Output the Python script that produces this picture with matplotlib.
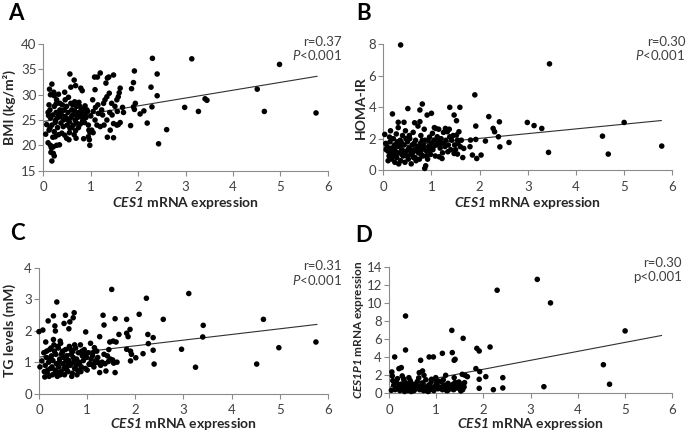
import matplotlib
matplotlib.use("Agg")
import matplotlib.pyplot as plt
import numpy as np

plt.rcParams['font.family'] = ['Lato', 'DejaVu Sans']
plt.rcParams['mathtext.fontset'] = 'custom'
plt.rcParams['mathtext.sf'] = 'Lato:italic:bold'
plt.rcParams['mathtext.it'] = 'Lato:italic'
plt.rcParams['mathtext.rm'] = 'Lato'

# ---------------- Panel A: BMI ----------------
A_x = [5.75, 4.98, 4.51, 4.66, 3.41, 3.45, 3.27, 2.98, 3.13, 2.60, 2.43, 2.30, 2.40, 2.40, 2.27, 2.29,
       2.19, 2.12, 2.04, 1.92, 1.90, 1.86, 1.94, 1.92, 1.84, 1.90, 1.62, 1.60, 1.58, 1.55, 1.51, 1.56,
       1.62, 1.67, 1.69, 1.58, 1.55, 1.48, 1.41, 1.48, 1.35, 1.34, 1.44, 1.39, 1.48, 1.38, 1.35, 1.32,
       1.34, 1.30, 1.27, 1.23, 1.05, 1.09, 1.20, 1.13, 1.16, 1.20, 1.14, 1.08, 1.09, 1.04, 1.02, 0.98,
       0.97, 0.98, 0.95, 0.93, 0.88, 0.83, 0.77, 0.84, 0.80, 0.77, 0.82, 0.79, 0.69, 0.65, 0.70, 0.67,
       0.70, 0.66, 0.68, 0.65, 0.54, 0.49, 0.56, 0.53, 0.60, 0.58, 0.56, 0.53, 0.46, 0.49, 0.46, 0.42,
       0.39, 0.32, 0.34, 0.37, 0.34, 0.35, 0.35, 0.32, 0.23, 0.28, 0.23, 0.26, 0.23, 0.20, 0.25, 0.21,
       0.23, 0.21, 0.18, 0.16, 0.15, 0.14, 0.15, 0.14, 0.18, 0.13, 0.11, 0.07, 0.05,
       0.10, 0.12, 0.18, 0.20, 0.25, 0.27, 0.30, 0.30, 0.38, 0.40, 0.42, 0.44, 0.45, 0.50, 0.52, 0.55,
       0.58, 0.60, 0.62, 0.63, 0.66, 0.72, 0.74, 0.75, 0.78, 0.81, 0.85, 0.87, 0.90, 0.92, 0.95, 0.96,
       1.00, 1.05, 1.10, 1.15, 1.25, 1.28, 1.40, 1.45, 0.10, 0.17, 0.28, 0.22, 0.15, 0.45, 0.75, 0.58,
       0.85, 0.33, 0.48, 0.62, 0.72, 0.88, 0.12, 0.27, 0.40, 0.55, 0.68]
A_y = [26.4, 36.0, 31.1, 26.7, 29.2, 28.9, 26.7, 27.5, 37.1, 23.1, 20.3, 37.2, 34.1, 29.8, 31.5, 27.6,
       24.4, 26.8, 26.2, 34.7, 32.4, 31.2, 28.3, 27.1, 23.9, 27.6, 31.3, 30.4, 29.6, 29.0, 27.7, 26.7,
       24.5, 27.5, 26.5, 24.1, 24.0, 24.3, 23.0, 21.5, 21.6, 25.0, 28.3, 30.3, 33.9, 33.5, 33.3, 32.3,
       29.6, 29.0, 28.3, 27.0, 26.7, 25.0, 23.7, 24.0, 26.3, 34.3, 33.5, 33.5, 31.0, 29.0, 23.0, 20.0,
       21.1, 22.6, 21.7, 26.7, 26.0, 24.9, 25.7, 26.3, 27.0, 27.7, 30.8, 31.3, 21.4, 22.1, 24.4, 25.0,
       27.7, 28.6, 31.8, 32.9, 21.1, 21.4, 23.4, 25.0, 27.0, 28.3, 34.1, 29.5, 29.0, 27.7, 25.7, 23.7,
       22.4, 22.1, 20.1, 24.4, 25.7, 27.0, 28.3, 30.1, 29.8, 29.0, 27.7, 25.0, 22.7, 21.6, 21.7, 19.7,
       17.9, 18.4, 16.9, 18.6, 20.0, 23.4, 25.4, 27.0, 32.1, 31.1, 25.9, 24.1, 22.2,
       26.5, 28.0, 24.0, 26.0, 24.5, 26.5, 23.5, 25.5, 26.0, 28.0, 25.0, 27.0, 22.0, 24.0, 26.5, 22.5,
       25.5, 23.5, 26.0, 24.0, 26.8, 25.5, 23.5, 26.5, 24.2, 25.8, 27.2, 24.5, 25.5, 27.0, 24.0, 23.0,
       25.8, 22.5, 27.5, 28.0, 26.0, 24.0, 26.5, 26.0, 20.5, 19.5, 20.0, 30.5, 30.0, 30.5, 28.5, 31.5,
       21.3, 26.2, 25.2, 28.0, 26.0, 27.8, 23.0, 28.2, 26.8, 24.6, 22.9]

# ---------------- Panel B: HOMA-IR ----------------
B_x = [5.78, 5.00, 4.55, 4.67, 3.43, 3.45, 3.29, 3.13, 2.99, 2.61, 2.42, 2.41, 2.39, 2.28, 2.31, 2.19,
       2.12, 2.03, 1.94, 1.92, 1.92, 1.90, 1.85, 1.81, 1.80, 1.59, 1.38, 1.47, 1.52, 1.52, 1.57, 1.54,
       1.60, 1.67, 1.47, 1.54, 1.34, 1.29, 1.33, 1.38, 1.26, 1.22, 1.16, 1.09, 1.00, 0.91, 1.02, 1.05,
       1.12, 0.88, 0.86, 0.81, 0.76, 0.76, 0.65, 0.51, 0.19, 0.31, 0.43, 0.36, 0.03, 0.05,
       0.08, 0.10, 0.12, 0.14, 0.15, 0.17, 0.18, 0.20, 0.21, 0.23, 0.24, 0.25, 0.27, 0.28, 0.30, 0.31,
       0.32, 0.33, 0.35, 0.36, 0.38, 0.40, 0.41, 0.43, 0.45, 0.46, 0.48, 0.50, 0.52, 0.53, 0.55, 0.57,
       0.58, 0.60, 0.62, 0.63, 0.65, 0.67, 0.68, 0.70, 0.72, 0.73, 0.75, 0.77, 0.78, 0.80, 0.82, 0.83,
       0.85, 0.87, 0.90, 0.92, 0.94, 0.96, 0.98, 1.00, 1.03, 1.06, 1.08, 1.10, 1.13, 1.15, 1.18, 1.20,
       1.23, 1.25, 1.28, 1.30, 1.35, 1.37, 1.40, 1.42, 1.45, 1.48, 1.50, 1.55, 1.62, 1.65,
       0.10, 0.16, 0.22, 0.26, 0.34, 0.39, 0.44, 0.49, 0.56, 0.61, 0.66, 0.71, 0.79, 0.84, 0.89, 0.95,
       0.13, 0.29, 0.47, 0.64, 0.81, 1.04, 1.19, 0.06, 0.37, 0.54, 0.74, 0.93]
B_y = [1.53, 3.03, 2.16, 1.02, 1.13, 6.75, 2.65, 2.83, 3.03, 1.76, 1.48, 3.07, 2.12, 2.65, 2.44, 3.40,
       1.85, 0.96, 0.74, 2.80, 1.95, 4.78, 0.96, 1.91, 1.49, 3.99, 3.99, 3.50, 3.14, 2.23, 2.44, 1.91,
       1.49, 1.38, 1.06, 1.02, 1.17, 2.65, 2.44, 2.12, 1.70, 0.74, 0.85, 2.65, 3.61, 3.50, 2.34, 1.91,
       2.12, 0.28, 0.11, 4.20, 3.82, 3.08, 3.01, 3.91, 3.57, 3.04, 3.04, 7.95, 2.27, 1.70,
       1.5, 1.2, 0.9, 1.8, 2.5, 1.4, 0.7, 1.0, 2.0, 1.6, 0.5, 1.2, 2.3, 0.8, 1.5, 2.7,
       0.4, 1.1, 1.9, 0.6, 1.3, 2.2, 0.9, 1.6, 0.5, 2.5, 1.2, 1.8, 0.7, 1.4, 2.0, 1.0,
       0.4, 1.6, 2.4, 0.8, 1.3, 1.9, 0.6, 1.5, 2.8, 1.1, 0.7, 1.7, 2.2, 1.3, 0.9, 1.6,
       2.6, 1.9, 1.2, 0.7, 1.5, 2.1, 1.0, 1.7, 1.3, 2.7, 0.9, 1.6, 1.9, 2.6, 1.4, 2.0,
       1.1, 2.4, 1.5, 1.9, 1.6, 2.6, 1.3, 1.9, 2.2, 1.6, 1.3, 1.7, 1.9, 0.8,
       0.6, 1.1, 1.3, 0.9, 1.6, 1.0, 1.2, 0.9, 1.3, 1.1, 0.8, 1.2, 1.0, 1.4, 0.9, 1.3,
       2.1, 1.8, 2.0, 1.7, 1.9, 1.5, 1.7, 1.3, 1.8, 2.2, 1.4, 1.9]

# ---------------- Panel C: TG levels ----------------
C_x = [5.75, 4.98, 4.52, 4.66, 3.11, 2.58, 3.41, 3.40, 2.96, 3.25, 2.37, 2.37, 2.39,
       0.00, 0.08, 0.02, 0.06, 0.11, 0.12, 0.14, 0.16, 0.19, 0.30, 0.33, 0.34, 0.30, 0.37, 0.44,
       0.52, 0.55, 0.64, 0.62, 0.71, 0.73, 0.97, 1.07, 1.00, 1.20, 1.26, 1.33, 1.35, 1.51, 1.58,
       1.47, 1.54, 1.60, 1.66, 1.82, 1.82, 1.85, 1.89, 1.82, 1.90, 1.90, 1.92, 2.01, 2.08, 2.16,
       2.23, 2.26, 2.27, 1.35, 1.39, 1.26, 1.24, 1.44, 1.53, 1.55, 1.58, 1.15, 1.16, 1.09, 1.04,
       0.10, 0.13, 0.15, 0.17, 0.20, 0.22, 0.24, 0.26, 0.28, 0.29, 0.31, 0.33, 0.35, 0.36, 0.38,
       0.40, 0.41, 0.43, 0.45, 0.46, 0.48, 0.50, 0.51, 0.53, 0.55, 0.57, 0.58, 0.60, 0.62, 0.63,
       0.65, 0.67, 0.69, 0.70, 0.72, 0.74, 0.76, 0.78, 0.80, 0.82, 0.84, 0.86, 0.88, 0.90, 0.92,
       0.94, 0.96, 0.99, 1.02, 1.05, 1.08, 1.11, 1.14, 1.18, 1.22, 1.28, 1.31, 1.37, 1.42, 1.48,
       0.18, 0.23, 0.27, 0.32, 0.37, 0.42, 0.47, 0.52, 0.56, 0.61, 0.66, 0.71, 0.77, 0.83, 0.89,
       0.21, 0.34, 0.44, 0.58, 0.68, 0.79, 0.87, 0.95, 1.12, 0.25, 0.39, 0.49, 0.74, 1.45, 1.62]
C_y = [1.64, 1.46, 0.94, 2.36, 3.18, 2.36, 2.17, 1.80, 1.41, 0.84, 1.78, 1.38, 0.94,
       1.97, 2.02, 0.85, 1.04, 0.70, 0.53, 1.64, 1.35, 2.31, 2.47, 2.15, 1.99, 1.72, 2.91, 1.67,
       2.23, 2.49, 2.28, 2.06, 2.41, 2.57, 1.96, 1.60, 0.75, 1.35, 1.81, 2.49, 2.18, 3.31, 2.38,
       1.64, 1.67, 1.64, 1.88, 1.92, 2.36, 1.81, 2.04, 1.41, 1.35, 1.04, 1.25, 1.14, 2.52, 1.27,
       3.03, 1.88, 1.59, 1.25, 0.72, 0.67, 0.98, 1.02, 1.07, 0.97, 0.67, 1.46, 0.98, 0.93, 0.93,
       1.30, 0.90, 1.15, 0.65, 1.00, 1.40, 0.80, 1.20, 0.60, 1.05, 1.55, 0.75, 1.25, 0.95, 0.55,
       1.45, 0.85, 1.10, 1.60, 0.70, 1.30, 0.95, 1.15, 0.60, 1.40, 0.85, 1.20, 0.70, 1.05, 1.50,
       0.90, 1.25, 0.65, 1.35, 1.00, 0.80, 1.45, 1.10, 0.75, 1.30, 0.95, 1.55, 0.85, 1.20, 1.05,
       1.40, 0.80, 1.15, 1.30, 0.95, 1.10, 1.20, 0.85, 1.05, 1.15, 0.90, 1.00, 0.95, 1.20, 1.10,
       0.75, 1.10, 0.85, 1.35, 0.70, 1.00, 1.25, 0.80, 1.05, 0.95, 1.40, 1.15, 0.90, 1.00, 1.35,
       0.55, 0.65, 0.60, 0.75, 0.55, 0.60, 0.70, 1.25, 1.30, 1.45, 1.50, 1.35, 1.55, 1.40, 1.00]

# ---------------- Panel D: CES1P1 expression ----------------
D_x = [3.14, 2.29, 3.42, 5.00, 4.54, 4.67, 3.28, 2.41, 2.41, 2.21, 2.14,
       0.35, 0.35, 0.12, 0.67, 0.85, 0.94, 1.13, 1.33, 1.57, 1.34, 1.38, 1.40, 1.86, 1.91, 1.84,
       1.92, 2.05, 1.91, 1.91, 0.06, 0.07, 0.05, 0.18, 0.21, 0.26, 0.28, 0.32, 0.42, 0.64, 0.71,
       0.74, 0.90, 0.99, 1.04, 1.20, 1.38, 1.48, 1.55, 1.61, 1.66, 1.60, 1.59, 1.52, 1.45,
       0.10, 0.13, 0.16, 0.20, 0.23, 0.25, 0.27, 0.30, 0.33, 0.36, 0.38, 0.40, 0.43, 0.45, 0.48,
       0.50, 0.53, 0.55, 0.57, 0.60, 0.62, 0.65, 0.68, 0.70, 0.73, 0.76, 0.78, 0.81, 0.84, 0.87,
       0.89, 0.92, 0.95, 0.98, 1.01, 1.04, 1.07, 1.10, 1.13, 1.16, 1.19, 1.22, 1.25, 1.28, 1.31,
       1.34, 1.37, 1.40, 1.43, 1.47, 1.50, 1.53, 1.56, 0.15, 0.22, 0.29, 0.37, 0.46, 0.52, 0.59,
       0.66, 0.72, 0.79, 0.86, 0.93, 1.00, 1.09, 1.18, 1.27, 1.36, 0.08, 0.31, 0.47, 0.63, 0.83,
       1.15, 1.24, 1.42, 0.24, 0.56]
D_y = [12.6, 11.4, 10.0, 6.9, 3.16, 1.0, 0.73, 1.73, 0.59, 0.40, 5.12,
       8.55, 4.79, 4.02, 3.65, 4.02, 4.02, 4.42, 6.96, 6.08, 4.50, 3.65, 3.76, 4.97, 4.68, 2.73,
       2.40, 1.84, 1.55, 0.55, 2.36, 1.92, 0.33, 1.62, 2.73, 2.84, 1.92, 1.36, 1.73, 2.28, 2.47,
       1.99, 1.55, 1.73, 1.36, 1.99, 1.73, 1.25, 2.10, 1.99, 1.84, 1.18, 0.70, 0.26, 0.63,
       0.9, 0.4, 1.2, 0.6, 0.3, 1.0, 0.5, 0.8, 0.2, 1.1, 0.6, 0.3, 0.9, 1.4, 0.5,
       0.7, 0.3, 1.0, 0.5, 1.3, 0.8, 0.4, 0.6, 1.1, 0.3, 0.7, 1.5, 0.5, 0.9, 0.4,
       1.2, 0.6, 0.3, 0.8, 1.0, 0.5, 0.7, 1.3, 0.4, 0.9, 0.6, 0.3, 1.1, 0.7, 0.5,
       0.9, 0.4, 1.2, 0.6, 0.8, 0.5, 1.0, 0.4, 0.5, 0.9, 0.4, 0.7, 1.2, 0.3, 0.9,
       0.5, 1.1, 0.3, 0.7, 0.4, 1.3, 0.6, 0.9, 0.5, 1.0, 1.4, 1.6, 0.2, 1.7, 0.2,
       1.5, 0.3, 1.0, 0.7, 0.6]

# Regression lines (intercept, slope) and x range
fit_A = (24.7, 1.55)
fit_B = (1.42, 0.30)
fit_C = (1.16, 0.18)
fit_D = (0.68, 0.99)
fit_xrange = (0.0, 5.77)

x_ticks = [0, 1, 2, 3, 4, 5, 6]

panels = [
    dict(x=A_x, y=A_y, fit=fit_A, yticks=[15, 20, 25, 30, 35, 40], ylim=(15, 40),
         ylabel='BMI (kg/m²)', ylab_fs=10, letter='A', r='r=0.37', p='$\\mathit{P}$<0.001',
         pos=[0.0629, 0.606, 0.413, 0.292], ylab_x=0.0135, let_xy=(0.012, 0.968),
         txt_x=0.496, txt_y=(0.904, 0.872), xlab_y=0.532),
    dict(x=B_x, y=B_y, fit=fit_B, yticks=[0, 2, 4, 6, 8], ylim=(0, 8),
         ylabel='HOMA-IR', ylab_fs=10, letter='B', r='r=0.30', p='$\\mathit{P}$<0.001',
         pos=[0.5563, 0.607, 0.4195, 0.291], ylab_x=0.5235, let_xy=(0.517, 0.968),
         txt_x=0.995, txt_y=(0.904, 0.872), xlab_y=0.532),
    dict(x=C_x, y=C_y, fit=fit_C, yticks=[0, 1, 2, 3, 4], ylim=(0, 4),
         ylabel='TG levels (mM)', ylab_fs=10, letter='C', r='r=0.31', p='$\\mathit{P}$<0.001',
         pos=[0.0566, 0.0908, 0.4194, 0.291], ylab_x=0.0135, let_xy=(0.014, 0.461),
         txt_x=0.496, txt_y=(0.386, 0.353), xlab_y=0.021),
    dict(x=D_x, y=D_y, fit=fit_D, yticks=[0, 2, 4, 6, 8, 10, 12, 14], ylim=(0, 14),
         ylabel='$\\mathsf{CES1P1}$ mRNA expression', ylab_fs=8.5, letter='D', r='r=0.30',
         p='p<0.001', pos=[0.5646, 0.0917, 0.4112, 0.2923], ylab_x=0.520, let_xy=(0.516, 0.456),
         txt_x=0.990, txt_y=(0.392, 0.360), xlab_y=0.021),
]

fig = plt.figure(figsize=(6.89, 4.33), dpi=100)
spine_col = '#8c8c8c'
tick_col = '#404040'

for p in panels:
    ax = fig.add_axes(p['pos'])
    b0, b1 = p['fit']
    xl = np.array(fit_xrange)
    ax.plot(xl, b0 + b1 * xl, color='#303030', lw=0.8, zorder=2)
    ax.scatter(p['x'], p['y'], s=16, color='black', edgecolors='none', zorder=3, clip_on=False)
    ax.set_xlim(0, 6)
    ax.set_ylim(*p['ylim'])
    ax.set_xticks(x_ticks)
    ax.set_yticks(p['yticks'])
    for s in ['top', 'right']:
        ax.spines[s].set_visible(False)
    for s in ['left', 'bottom']:
        ax.spines[s].set_color(spine_col)
        ax.spines[s].set_linewidth(0.8)
    ax.tick_params(axis='both', colors=spine_col, labelcolor=tick_col, labelsize=9.5,
                   length=3.5, width=0.8, direction='out')
    ax.tick_params(axis='x', pad=4)
    ax.tick_params(axis='y', pad=1.5)
    ax.patch.set_alpha(0)
    cx = p['pos'][0] + p['pos'][2] / 2
    fig.text(cx, p['xlab_y'], '$\\mathsf{CES1}$ mRNA expression', ha='center', va='center',
             fontsize=10, fontweight='bold', color='#262626')
    cy = p['pos'][1] + p['pos'][3] / 2
    fig.text(p['ylab_x'], cy, p['ylabel'], rotation=90, ha='center', va='center',
             fontsize=p['ylab_fs'], fontweight='bold', color='#262626')
    fig.text(p['let_xy'][0], p['let_xy'][1], p['letter'], ha='left', va='center',
             fontsize=16, fontweight='bold', color='black')
    fig.text(p['txt_x'], p['txt_y'][0], p['r'], ha='right', va='center', fontsize=9.5, color=tick_col)
    fig.text(p['txt_x'], p['txt_y'][1], p['p'], ha='right', va='center', fontsize=9.5, color=tick_col)

fig.savefig('out.png', dpi=100)
